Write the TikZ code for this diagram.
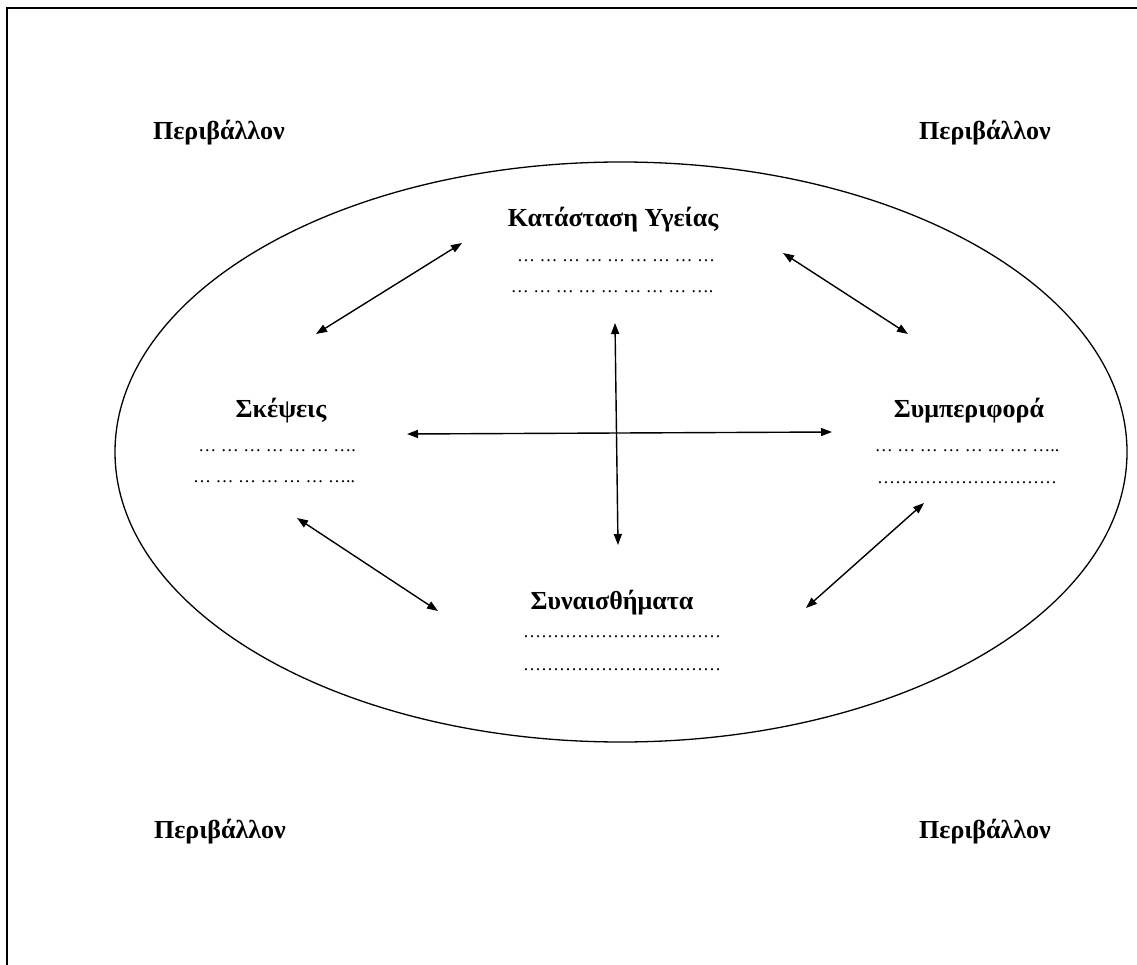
\documentclass[tikz,border=0pt]{standalone}
\usepackage{fontspec}
\setmainfont{Liberation Serif}
\usetikzlibrary{arrows.meta}
\begin{document}
\begin{tikzpicture}[x=1pt,y=-1pt,
  heading/.style={font=\fontsize{26}{28}\selectfont\bfseries, inner sep=0pt, anchor=center},
  dotline/.style={font=\fontsize{18}{20}\selectfont, inner sep=0pt, anchor=center},
  env/.style={font=\fontsize{26}{28}\selectfont\bfseries, inner sep=0pt, anchor=center},
  link/.style={line width=1.4pt, {Triangle[length=11pt,width=8pt]}-{Triangle[length=11pt,width=8pt]}}]
\useasboundingbox (0,0) rectangle (1137,965);
% page frame (top and left edges)
\draw[line width=2.5pt] (7,966) -- (7,8) -- (1138,8);
% the surrounding ellipse
\draw[line width=1.3pt] (621,452) ellipse [x radius=506, y radius=290];
% environment labels in the corners
\node[env] (envTL) at (219,133) {Περιβάλλον};
\node[env] (envTR) at (985,133) {Περιβάλλον};
\node[env] (envBL) at (220,832) {Περιβάλλον};
\node[env] (envBR) at (985,832) {Περιβάλλον};
% the four components
\node[heading] (health) at (613,220) {Κατάσταση Υγείας};
\node[dotline] (healthA) at (616,261) {… … … … … … … … …};
\node[dotline] (healthB) at (612,292) {… … … … … … … … ….};
\node[heading] (thoughts) at (281,411) {Σκέψεις};
\node[dotline] (thoughtsA) at (277,451) {… … … … … … ….};
\node[dotline] (thoughtsB) at (274,482) {… … … … … … …..};
\node[heading] (behaviour) at (969,411) {Συμπεριφορά};
\node[dotline] (behaviourA) at (967,451) {… … … … … … … …..};
\node[dotline] (behaviourB) at (967,483) {…………………………};
\node[heading] (emotions) at (612,603) {Συναισθήματα};
\node[dotline] (emotionsA) at (622,637) {……………………………};
\node[dotline] (emotionsB) at (622,670) {……………………………};
% arrow end points
\coordinate (hT) at (462,243);
\coordinate (tH) at (316,334);
\coordinate (hB) at (783,253);
\coordinate (bH) at (908,334);
\coordinate (tB) at (407,434);
\coordinate (bT) at (832,432);
\coordinate (hE) at (615,323);
\coordinate (eH) at (618,545);
\coordinate (tE) at (297,518);
\coordinate (eT) at (438,611);
\coordinate (bE) at (924,503);
\coordinate (eB) at (806,608);
% two-way links
\draw[link] (hT) -- (tH);
\draw[link] (hB) -- (bH);
\draw[link] (tB) -- (bT);
\draw[link] (hE) -- (eH);
\draw[link] (tE) -- (eT);
\draw[link] (bE) -- (eB);
\end{tikzpicture}
\end{document}
